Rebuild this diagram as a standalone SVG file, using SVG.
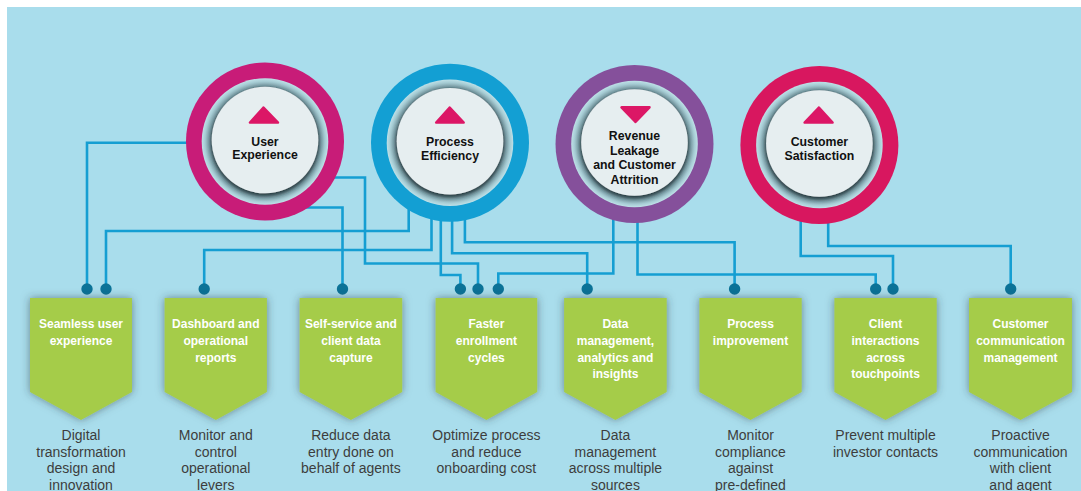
<svg xmlns="http://www.w3.org/2000/svg" width="1081" height="491" viewBox="0 0 1081 491">
<defs>
<radialGradient id="band" cx="0.5" cy="0.5" r="0.5">
<stop offset="0" stop-color="#4a626a"/>
<stop offset="0.83" stop-color="#4a626a"/>
<stop offset="0.88" stop-color="#7a9ba4"/>
<stop offset="0.95" stop-color="#a6ccd4"/>
<stop offset="1" stop-color="#bfe1e8"/>
</radialGradient>
<filter id="inShadow" x="-30%" y="-30%" width="160%" height="160%">
<feDropShadow dx="0" dy="2" stdDeviation="2.5" flood-color="#24343a" flood-opacity="0.85"/>
</filter>
<filter id="boxShadow" x="-30%" y="-30%" width="160%" height="160%">
<feDropShadow dx="0" dy="0" stdDeviation="4" flood-color="#2f3a3e" flood-opacity="0.55"/>
</filter>
<style>
.bg{fill:#a9ddec}
.band{fill:url(#band)}
.core{fill:#e6eef0;filter:url(#inShadow)}
.tri{fill:#dc1766;stroke:#dc1766;stroke-width:2.5;stroke-linejoin:round}
.ctext{font-family:"Liberation Sans",Arial,sans-serif;font-weight:bold;font-size:12.3px;fill:#111;text-anchor:middle}
.box{fill:#a5cc4a;filter:url(#boxShadow)}
.btext{font-family:"Liberation Sans",Arial,sans-serif;font-weight:bold;font-size:12px;fill:#fff;text-anchor:middle}
.dtext{font-family:"Liberation Sans",Arial,sans-serif;font-size:14px;fill:#3d3d3d;text-anchor:middle}
.conn{fill:none;stroke:#159ed2;stroke-width:2.6}
.dot{fill:#0b7297}
</style>
</defs>
<rect x="0" y="0" width="1081" height="491" fill="#ffffff"/>
<rect class="bg" x="7" y="7" width="1074" height="484"/>

<g id="connectors">
<path class="conn" d="M200,142.7 H87 V289"/>
<path class="conn" d="M408.7,200 V231 H106 V289"/>
<path class="conn" d="M320,177.5 H365 V263.5 H478 V289"/>
<path class="conn" d="M300,207.5 H342.5 V289"/>
<path class="conn" d="M431.5,205 V250 H204.2 V289"/>
<path class="conn" d="M440.8,205 V275 H460.4 V289"/>
<path class="conn" d="M452.1,205 V253.3 H587.2 V289"/>
<path class="conn" d="M464.9,205 V242.3 H734.6 V289"/>
<path class="conn" d="M613.3,205 V273.5 H498.3 V289"/>
<path class="conn" d="M637.5,205 V274.5 H875.7 V289"/>
<path class="conn" d="M800.7,205 V256 H893 V289"/>
<path class="conn" d="M828.2,205 V246 H1010.7 V289"/>
<circle class="dot" cx="87" cy="289" r="5.7"/>
<circle class="dot" cx="106" cy="289" r="5.7"/>
<circle class="dot" cx="204.2" cy="289" r="5.7"/>
<circle class="dot" cx="342.5" cy="289" r="5.7"/>
<circle class="dot" cx="460.4" cy="289" r="5.7"/>
<circle class="dot" cx="478" cy="289" r="5.7"/>
<circle class="dot" cx="498.3" cy="289" r="5.7"/>
<circle class="dot" cx="587.2" cy="289" r="5.7"/>
<circle class="dot" cx="734.6" cy="289" r="5.7"/>
<circle class="dot" cx="875.7" cy="289" r="5.7"/>
<circle class="dot" cx="893" cy="289" r="5.7"/>
<circle class="dot" cx="1010.7" cy="289" r="5.7"/>
</g>

<g id="user-experience">
<circle cx="265" cy="141.5" r="79" fill="#c81c78"/>
<circle class="band" cx="265" cy="141.5" r="63.3"/>
<circle class="core" cx="265" cy="140" r="53.3"/>
<path class="tri" d="M263.5,107.5 L250,122.5 H278 Z"/>
<text class="ctext" x="265" y="145.7">User</text>
<text class="ctext" x="265" y="159">Experience</text>
</g>

<g id="process-efficiency">
<circle cx="450" cy="142.7" r="79" fill="#139fd3"/>
<circle class="band" cx="450" cy="142.7" r="63.3"/>
<circle class="core" cx="450" cy="141.2" r="53.3"/>
<path class="tri" d="M449.7,107.5 L436.2,122.5 H463.7 Z"/>
<text class="ctext" x="450" y="145.7">Process</text>
<text class="ctext" x="450" y="160">Efficiency</text>
</g>

<g id="revenue-leakage">
<circle cx="634.5" cy="144" r="79" fill="#85509b"/>
<circle class="band" cx="634.5" cy="144" r="63.3"/>
<circle class="core" cx="634.5" cy="142.5" r="53.3"/>
<path class="tri" d="M621.5,107.3 H649.5 L635.5,122 Z"/>
<text class="ctext" x="634.5" y="140">Revenue</text>
<text class="ctext" x="634.5" y="154.5">Leakage</text>
<text class="ctext" x="634.5" y="169">and Customer</text>
<text class="ctext" x="634.5" y="183.7">Attrition</text>
</g>

<g id="customer-satisfaction">
<circle cx="819.4" cy="145" r="79" fill="#d8175f"/>
<circle class="band" cx="819.4" cy="145" r="63.3"/>
<circle class="core" cx="819.4" cy="143.5" r="53.3"/>
<path class="tri" d="M818.9,107.5 L804.6,122.5 H832.6 Z"/>
<text class="ctext" x="819.4" y="145.7">Customer</text>
<text class="ctext" x="819.4" y="160">Satisfaction</text>
</g>

<g id="seamless-user-experience">
<path class="box" d="M30,298 H132 V392 L81,420 L30,392 Z"/>
<text class="btext" x="81" y="328.3">Seamless user</text>
<text class="btext" x="81" y="345">experience</text>
<text class="dtext" x="81" y="440">Digital</text>
<text class="dtext" x="81" y="456.7">transformation</text>
<text class="dtext" x="81" y="473.3">design and</text>
<text class="dtext" x="81" y="490">innovation</text>
</g>

<g id="dashboard-reports">
<path class="box" d="M164.6,298 H266.9 V392 L215.8,420 L164.6,392 Z"/>
<text class="btext" x="215.8" y="328.3">Dashboard and</text>
<text class="btext" x="215.8" y="345">operational</text>
<text class="btext" x="215.8" y="361.7">reports</text>
<text class="dtext" x="215.8" y="440">Monitor and</text>
<text class="dtext" x="215.8" y="456.7">control</text>
<text class="dtext" x="215.8" y="473.3">operational</text>
<text class="dtext" x="215.8" y="490">levers</text>
</g>

<g id="self-service">
<path class="box" d="M299.6,298 H402.2 V392 L350.9,420 L299.6,392 Z"/>
<text class="btext" x="350.9" y="328.3">Self-service and</text>
<text class="btext" x="350.9" y="345">client data</text>
<text class="btext" x="350.9" y="361.7">capture</text>
<text class="dtext" x="350.9" y="440">Reduce data</text>
<text class="dtext" x="350.9" y="456.7">entry done on</text>
<text class="dtext" x="350.9" y="473.3">behalf of agents</text>
</g>

<g id="faster-enrollment">
<path class="box" d="M435.6,298 H537.2 V392 L486.4,420 L435.6,392 Z"/>
<text class="btext" x="486.4" y="328.3">Faster</text>
<text class="btext" x="486.4" y="345">enrollment</text>
<text class="btext" x="486.4" y="361.7">cycles</text>
<text class="dtext" x="486.4" y="440">Optimize process</text>
<text class="dtext" x="486.4" y="456.7">and reduce</text>
<text class="dtext" x="486.4" y="473.3">onboarding cost</text>
</g>

<g id="data-management">
<path class="box" d="M564.1,298 H666.7 V392 L615.4,420 L564.1,392 Z"/>
<text class="btext" x="615.4" y="328.3">Data</text>
<text class="btext" x="615.4" y="345">management,</text>
<text class="btext" x="615.4" y="361.7">analytics and</text>
<text class="btext" x="615.4" y="378.3">insights</text>
<text class="dtext" x="615.4" y="440">Data</text>
<text class="dtext" x="615.4" y="456.7">management</text>
<text class="dtext" x="615.4" y="473.3">across multiple</text>
<text class="dtext" x="615.4" y="490">sources</text>
</g>

<g id="process-improvement">
<path class="box" d="M699.4,298 H801.7 V392 L750.5,420 L699.4,392 Z"/>
<text class="btext" x="750.5" y="328.3">Process</text>
<text class="btext" x="750.5" y="345">improvement</text>
<text class="dtext" x="750.5" y="440">Monitor</text>
<text class="dtext" x="750.5" y="456.7">compliance</text>
<text class="dtext" x="750.5" y="473.3">against</text>
<text class="dtext" x="750.5" y="490">pre-defined</text>
</g>

<g id="client-interactions">
<path class="box" d="M834.4,298 H936.7 V392 L885.5,420 L834.4,392 Z"/>
<text class="btext" x="885.5" y="328.3">Client</text>
<text class="btext" x="885.5" y="345">interactions</text>
<text class="btext" x="885.5" y="361.7">across</text>
<text class="btext" x="885.5" y="378.3">touchpoints</text>
<text class="dtext" x="885.5" y="440">Prevent multiple</text>
<text class="dtext" x="885.5" y="456.7">investor contacts</text>
</g>

<g id="customer-communication">
<path class="box" d="M969,298 H1072 V392 L1020.5,420 L969,392 Z"/>
<text class="btext" x="1020.5" y="328.3">Customer</text>
<text class="btext" x="1020.5" y="345">communication</text>
<text class="btext" x="1020.5" y="361.7">management</text>
<text class="dtext" x="1020.5" y="440">Proactive</text>
<text class="dtext" x="1020.5" y="456.7">communication</text>
<text class="dtext" x="1020.5" y="473.3">with client</text>
<text class="dtext" x="1020.5" y="490">and agent</text>
</g>
</svg>
